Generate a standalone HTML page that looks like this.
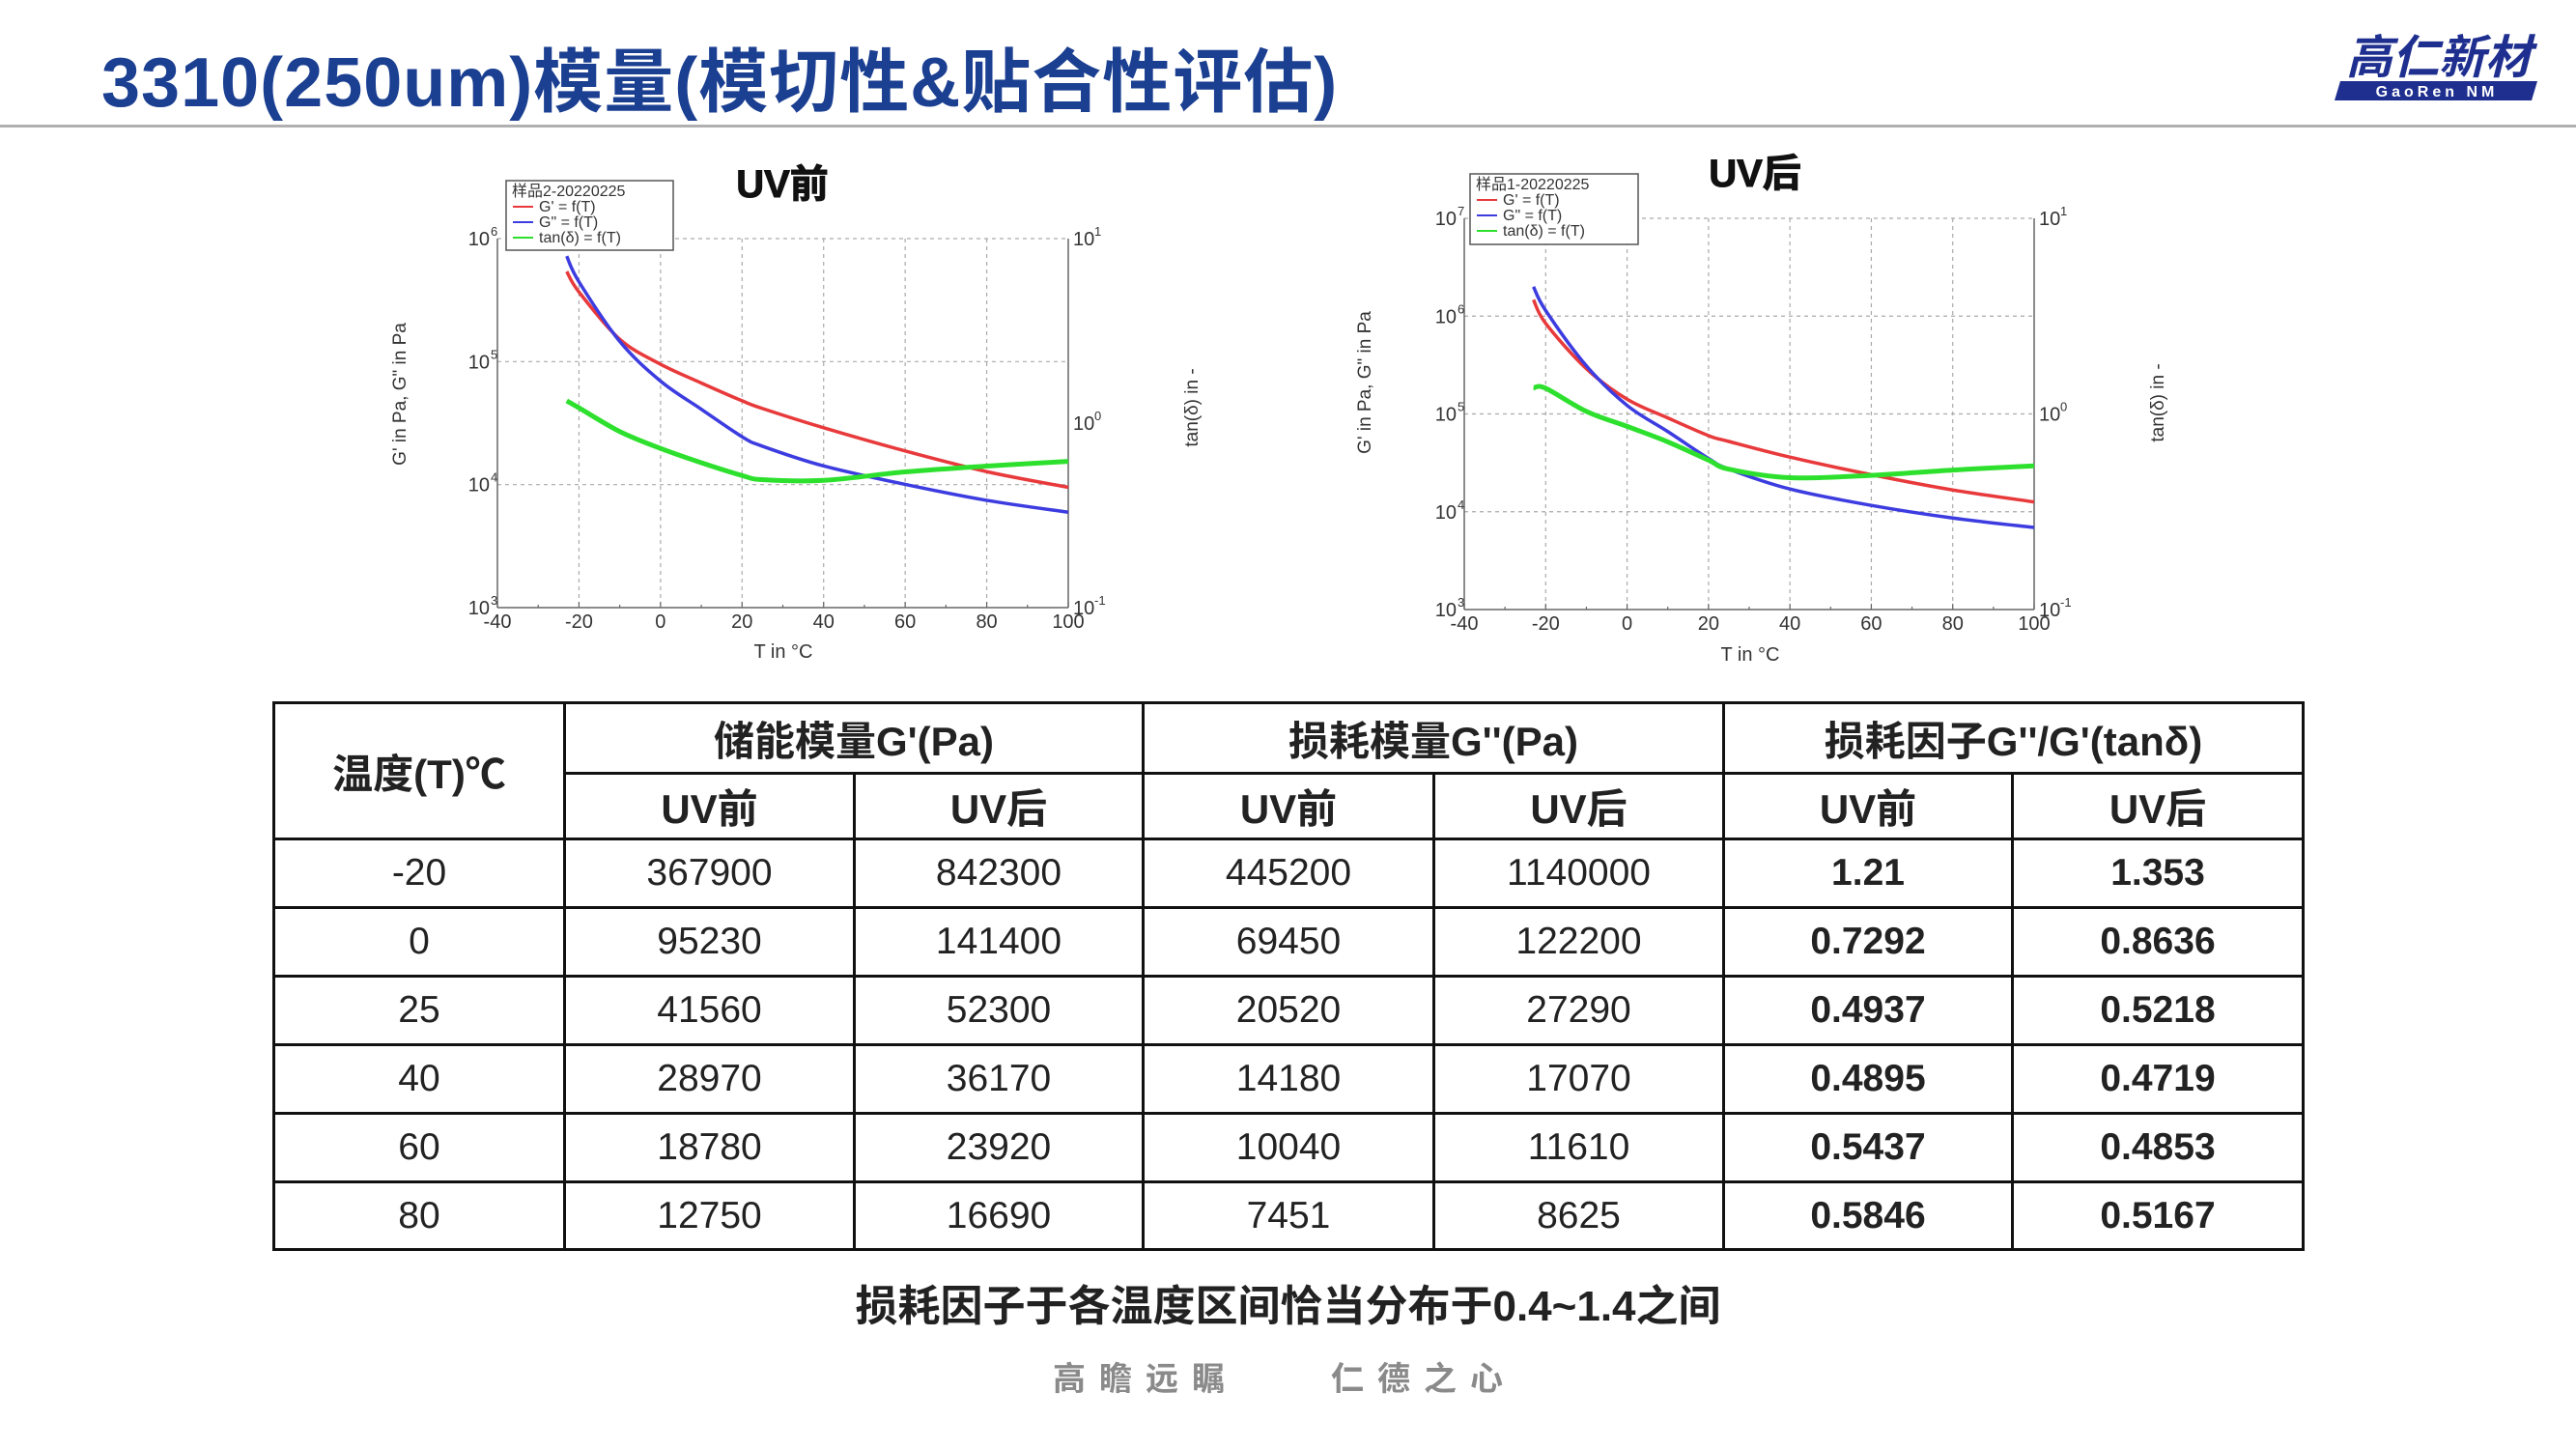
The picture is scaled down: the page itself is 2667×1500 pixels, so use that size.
<!DOCTYPE html>
<html><head><meta charset="utf-8">
<style>
html,body{margin:0;padding:0;background:#fff;}
body{width:2667px;height:1500px;position:relative;overflow:hidden;font-family:"Liberation Sans","Noto Sans CJK SC",sans-serif;}
.title{position:absolute;left:105px;top:26px;font-size:72px;font-weight:bold;color:#1b3f91;white-space:nowrap;letter-spacing:1px;}
.hline{position:absolute;left:0;top:129px;width:2667px;height:3px;background:#b0b0b0;}
.logo{position:absolute;left:2415px;top:30px;width:220px;height:80px;}
table{position:absolute;left:282px;top:726px;border-collapse:collapse;font-family:"Liberation Sans","Noto Sans CJK SC",sans-serif;}
td{border:3px solid #111;text-align:center;font-size:39px;color:#222;padding:0;}
td.h{font-weight:bold;font-size:42px;}
td.b{font-weight:bold;}
.note{position:absolute;left:0;width:2667px;top:1316px;text-align:center;font-size:44px;font-weight:bold;color:#222;}
.foot{position:absolute;left:1090px;top:1400px;font-size:34px;color:#8a8a8a;font-weight:bold;letter-spacing:14px;white-space:nowrap;}
</style></head>
<body>
<div class="title">3310(250um)模量(模切性&amp;贴合性评估)</div>
<div class="hline"></div>
<svg class="logo" viewBox="0 0 220 80">
<text x="110" y="46" text-anchor="middle" font-size="48" font-weight="bold" font-style="italic" fill="#1f2f8f" font-family="Liberation Sans,Noto Sans CJK SC,sans-serif">高仁新材</text>
<path d="M8 54 L212 54 L206 74 L2 74 Z" fill="#1f2f8f"/>
<text x="108" y="70" text-anchor="middle" font-size="16" font-weight="bold" fill="#fff" letter-spacing="4" font-family="Liberation Sans,sans-serif">GaoRen NM</text>
</svg>

<svg id="charts" width="2667" height="720" style="position:absolute;left:0;top:0;"></svg>

<table>
<colgroup><col style="width:301px"><col style="width:300px"><col style="width:299px"><col style="width:301px"><col style="width:300px"><col style="width:299px"><col style="width:301px"></colgroup>
<tr style="height:73px"><td class="h" rowspan="2">温度(T)℃</td><td class="h" colspan="2">储能模量G'(Pa)</td><td class="h" colspan="2">损耗模量G''(Pa)</td><td class="h" colspan="2">损耗因子G''/G'(tanδ)</td></tr>
<tr style="height:68px"><td class="h">UV前</td><td class="h">UV后</td><td class="h">UV前</td><td class="h">UV后</td><td class="h">UV前</td><td class="h">UV后</td></tr>
<tr style="height:71px"><td>-20</td><td>367900</td><td>842300</td><td>445200</td><td>1140000</td><td class="b">1.21</td><td class="b">1.353</td></tr>
<tr style="height:71px"><td>0</td><td>95230</td><td>141400</td><td>69450</td><td>122200</td><td class="b">0.7292</td><td class="b">0.8636</td></tr>
<tr style="height:71px"><td>25</td><td>41560</td><td>52300</td><td>20520</td><td>27290</td><td class="b">0.4937</td><td class="b">0.5218</td></tr>
<tr style="height:71px"><td>40</td><td>28970</td><td>36170</td><td>14180</td><td>17070</td><td class="b">0.4895</td><td class="b">0.4719</td></tr>
<tr style="height:71px"><td>60</td><td>18780</td><td>23920</td><td>10040</td><td>11610</td><td class="b">0.5437</td><td class="b">0.4853</td></tr>
<tr style="height:70px"><td>80</td><td>12750</td><td>16690</td><td>7451</td><td>8625</td><td class="b">0.5846</td><td class="b">0.5167</td></tr>
</table>

<div class="note">损耗因子于各温度区间恰当分布于0.4~1.4之间</div>
<div class="foot">高瞻远瞩　　仁德之心</div>

<script>
const temps = [-23, -20, -10, 0, 10, 20, 25, 40, 60, 80, 100];
const beforeGp  = [540000, 367900, 152000, 95230, 67000, 48000, 41560, 28970, 18780, 12750, 9500];
const beforeGpp = [720000, 445200, 146000, 69450, 41000, 24500, 20520, 14180, 10040, 7451, 5960];
const beforeTan = [1.32, 1.21, 0.90, 0.7292, 0.61, 0.52, 0.4937, 0.4895, 0.5437, 0.5846, 0.62];
const afterGp   = [1470000, 842300, 290000, 141400, 91000, 60000, 52300, 36170, 23920, 16690, 12600];
const afterGpp  = [2000000, 1140000, 310000, 122200, 66000, 35000, 27290, 17070, 11610, 8625, 6900];
const afterTan  = [1.36, 1.353, 1.03, 0.8636, 0.72, 0.58, 0.5218, 0.4719, 0.4853, 0.5167, 0.543];
const xTicks = [-40, -20, 0, 20, 40, 60, 80, 100];

const NS = 'http://www.w3.org/2000/svg';
const svg = document.getElementById('charts');
function mk(tag, attrs, parent) {
  const e = document.createElementNS(NS, tag);
  for (const k in attrs) e.setAttribute(k, attrs[k]);
  (parent || svg).appendChild(e);
  return e;
}
function txt(x, y, s, size, attrs, parent) {
  const t = mk('text', Object.assign({x: x, y: y, 'font-size': size, fill: '#333', 'font-family': 'Liberation Sans, Noto Sans CJK SC, sans-serif'}, attrs || {}), parent);
  t.textContent = s;
  return t;
}
function smooth(pts) {
  let d = 'M' + pts[0][0] + ' ' + pts[0][1];
  for (let i = 0; i < pts.length - 1; i++) {
    const p0 = pts[Math.max(0, i - 1)], p1 = pts[i], p2 = pts[i + 1], p3 = pts[Math.min(pts.length - 1, i + 2)];
    const c1x = p1[0] + (p2[0] - p0[0]) / 6, c1y = p1[1] + (p2[1] - p0[1]) / 6;
    const c2x = p2[0] - (p3[0] - p1[0]) / 6, c2y = p2[1] - (p3[1] - p1[1]) / 6;
    d += ' C' + c1x + ' ' + c1y + ' ' + c2x + ' ' + c2y + ' ' + p2[0] + ' ' + p2[1];
  }
  return d;
}

function chart(cfg) {
  const g = mk('g', {});
  
  
  const L = cfg.left, R = cfg.right, T = cfg.top, B = cfg.bottom;
  const xs = v => L + (v + 40) / 140 * (R - L);
  const yl = v => B - (Math.log10(v) - cfg.ymin) / (cfg.ymax - cfg.ymin) * (B - T);
  const yr = v => B - (Math.log10(v) + 1) / 2 * (B - T);
  for (const t of xTicks) {
    if (t > -40 && t < 100) {
      const gl = mk('line', {x1: xs(t), x2: xs(t), y1: T, y2: B, stroke: '#aaa', 'stroke-width': 1.2, 'stroke-dasharray': '4 4'}, g);
      
    }
  }
  for (let e = cfg.ymin + 1; e <= cfg.ymax; e++) {
    const gl = mk('line', {x1: L, x2: R, y1: yl(Math.pow(10, e)), y2: yl(Math.pow(10, e)), stroke: '#aaa', 'stroke-width': 1.2, 'stroke-dasharray': '4 4'}, g);
    
  }
  mk('line', {x1: L, x2: L, y1: T, y2: B, stroke: '#666', 'stroke-width': 1.5}, g);
  mk('line', {x1: R, x2: R, y1: T, y2: B, stroke: '#666', 'stroke-width': 1.5}, g);
  mk('line', {x1: L, x2: R, y1: B, y2: B, stroke: '#666', 'stroke-width': 1.5}, g);
  for (let t = -40; t <= 100; t += 10) mk('line', {x1: xs(t), x2: xs(t), y1: B, y2: B - (t % 20 === 0 ? 6 : 3), stroke: '#666', 'stroke-width': 1.2}, g);
  for (const t of xTicks) {
    const tl = txt(xs(t), B + 21, String(t), 20, {'text-anchor': 'middle'}, g);
    
  }
  for (let e = cfg.ymin; e <= cfg.ymax; e++) {
    const y = yl(Math.pow(10, e));
    const tl = txt(L - 8, y + 7, '10', 20, {'text-anchor': 'end'}, g);
    
    const sup = txt(L - 7, y - 3, String(e), 13, {'text-anchor': 'start'}, g);
    
  }
  for (let e = -1; e <= 1; e++) {
    const y = yr(Math.pow(10, e));
    const tl = txt(R + 5, y + 7, '10', 20, {}, g);
    
    const sup = txt(R + 27, y - 3, String(e), 13, {}, g);
    
  }
  const series = [[cfg.gp, yl, '#e8393b'], [cfg.gpp, yl, '#3c3ce0'], [cfg.tan, yr, '#2ee02e']];
  const names = ['storage-modulus-line', 'loss-modulus-line', 'tan-delta-line'];
  series.forEach((s, i) => {
    const pts = temps.map((t, j) => [xs(t), s[1](s[0][j])]);
    const p = mk('path', {d: smooth(pts), fill: 'none', stroke: s[2], 'stroke-width': i === 2 ? 5 : 3.5}, g);
    
    
  });
  const xl = txt(cfg.xlabX, cfg.xlabY, 'T in °C', 20, {'text-anchor': 'middle'}, g);
  
  const ylab = txt(0, 0, "G' in Pa, G\" in Pa", 19, {'text-anchor': 'middle', transform: 'translate(' + cfg.ylabX + ',' + cfg.ylabY + ') rotate(-90)'}, g);
  
  const y2lab = txt(0, 0, 'tan(δ) in -', 19, {'text-anchor': 'middle', transform: 'translate(' + cfg.y2labX + ',' + cfg.y2labY + ') rotate(-90)'}, g);
  
  const tt = txt(cfg.titleX, cfg.titleY, cfg.title, 40, {'text-anchor': 'middle', 'font-weight': 'bold', fill: '#111', stroke: '#111', 'stroke-width': 1}, g);
  
  const lg = mk('g', {}, g);
  
  
  const [lx1, ly1, lx2, ly2] = cfg.legend;
  mk('rect', {x: lx1, y: ly1, width: lx2 - lx1, height: ly2 - ly1, fill: '#fff', stroke: '#555', 'stroke-width': 1.5}, lg);
  txt(lx1 + 6, ly1 + 16, cfg.sample, 16, {}, lg);
  const labs = ["G' = f(T)", 'G" = f(T)', 'tan(δ) = f(T)'];
  const cols = ['#e8393b', '#3c3ce0', '#2ee02e'];
  for (let i = 0; i < 3; i++) {
    const y = ly1 + 32 + i * 16;
    mk('line', {x1: lx1 + 7, x2: lx1 + 28, y1: y - 5, y2: y - 5, stroke: cols[i], 'stroke-width': 2}, lg);
    const le = txt(lx1 + 34, y, labs[i], 16, {}, lg);
    
  }
}

chart({name: 'uv-before-chart', left: 515, right: 1106, top: 247, bottom: 629, ymin: 3, ymax: 6,
  gp: beforeGp, gpp: beforeGpp, tan: beforeTan, title: 'UV前', titleX: 810, titleY: 204,
  sample: '样品2-20220225', legend: [524, 187, 697, 259], xlabX: 811, xlabY: 681, ylabX: 420, ylabY: 408, y2labX: 1240, y2labY: 422});
chart({name: 'uv-after-chart', left: 1516, right: 2106, top: 226, bottom: 631, ymin: 3, ymax: 7,
  gp: afterGp, gpp: afterGpp, tan: afterTan, title: 'UV后', titleX: 1817, titleY: 193,
  sample: '样品1-20220225', legend: [1522, 180, 1696, 253], xlabX: 1812, xlabY: 684, ylabX: 1419, ylabY: 396, y2labX: 2240, y2labY: 417});
</script>
</body></html>
